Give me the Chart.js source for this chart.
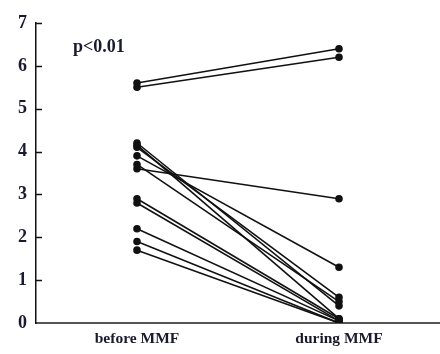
<!DOCTYPE html>
<html>
<head>
<meta charset="utf-8">
<script src="https://cdn.jsdelivr.net/npm/chart.js@4/dist/chart.umd.min.js"></script>
<style>
  html, body { margin: 0; padding: 0; background: #fff; }
  #wrap { width: 440px; height: 354px; }
</style>
</head>
<body>
<div id="wrap"><canvas id="myChart"></canvas></div>
<script>
const categories = ['before MMF', 'during MMF'];
const beforeValues = [5.6, 5.5, 4.2, 4.15, 4.1, 3.9, 3.7, 3.6, 2.9, 2.8, 2.2, 1.9, 1.7];
const duringValues = [6.4, 6.2, 0.4, 0.1, 0.6, 1.3, 0.5, 2.9, 0.1, 0.05, 0.05, 0, 0];
const yTicks = [0, 1, 2, 3, 4, 5, 6, 7];
const pValueText = 'p<0.01';

const serif = '"Liberation Serif", "DejaVu Serif", serif';
const ink = '#111';

// une série par patient
const datasets = beforeValues.map((b, i) => ({
   data: [b, duringValues[i]],
   borderColor: ink,
   borderWidth: 1.6,
   pointRadius: 3,
   pointBackgroundColor: ink,
   pointBorderColor: ink,
   tension: 0
}));

// petits traits de graduation vers l'intérieur + texte p
const extras = {
   id: 'extras',
   afterDraw(chart) {
      const ctx = chart.ctx;
      const y = chart.scales.y;
      ctx.save();
      ctx.strokeStyle = ink;
      ctx.lineWidth = 1.5;
      yTicks.forEach(v => {
         if (v === 0) return;
         const py = Math.round(y.getPixelForValue(v)) + 0.5;
         ctx.beginPath();
         ctx.moveTo(y.right, py);
         ctx.lineTo(y.right + 6, py);
         ctx.stroke();
      });
      ctx.fillStyle = '#1a1a2e';
      ctx.font = 'bold 18px ' + serif;
      ctx.textBaseline = 'middle';
      ctx.fillText(pValueText, 73, 47);
      ctx.restore();
   }
};

const ctx = document.getElementById('myChart').getContext('2d');
new Chart(ctx, {
   type: 'line',
   data: { labels: categories, datasets: datasets },
   options: {
      responsive: true,
      maintainAspectRatio: false,
      animation: false,
      layout: { autoPadding: false, padding: { top: 23, right: 0, left: 0, bottom: 0 } },
      plugins: { legend: { display: false }, tooltip: { enabled: false } },
      scales: {
         x: {
            offset: true,
            grid: { display: false, drawTicks: false },
            border: { display: true, color: '#555', width: 2 },
            ticks: {
               color: '#1a1a2e',
               padding: 7,
               maxRotation: 0,
               font: { family: serif, size: 15.5, weight: 'bold' }
            },
            afterFit: s => {
               s.height = 31;
               s.paddingLeft = 0;
               s.paddingRight = 0;
            }
         },
         y: {
            min: 0,
            max: 7,
            grid: { display: false, drawTicks: false },
            border: { display: true, color: ink, width: 1.5 },
            ticks: {
               stepSize: 1,
               color: '#1a1a2e',
               padding: 9,
               font: { family: serif, size: 18, weight: 'bold' }
            },
            afterFit: s => { s.width = 36; }
         }
      }
   },
   plugins: [extras]
});
</script>
</body>
</html>
